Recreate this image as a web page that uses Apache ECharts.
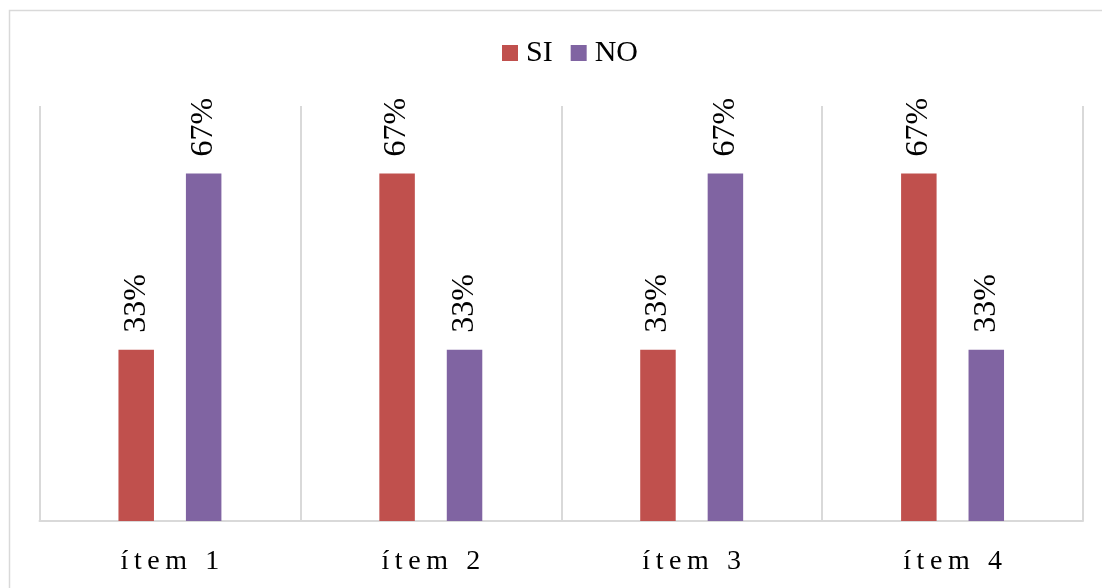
<!DOCTYPE html>
<html>
<head>
<meta charset="utf-8">
<style>
  html, body { margin: 0; padding: 0; background: #ffffff; }
  #chart { width: 1102px; height: 588px; }
</style>
<script src="https://cdn.jsdelivr.net/npm/echarts@6/dist/echarts.min.js"></script>
</head>
<body>
<div id="chart"></div>
<script>
// Survey answers per item (percent)
const categories = ['ítem 1', 'ítem 2', 'ítem 3', 'ítem 4'];
const seriesNames = ['SI', 'NO'];
const siValues = [33, 67, 33, 67];
const noValues = [67, 33, 67, 33];

const FONT = '"Liberation Serif", "Times New Roman", serif';
const GRID_COLOR = '#d9d9d9';

const chart = echarts.init(document.getElementById('chart'), null, { renderer: 'canvas' });

function barLabel() {
  return {
    show: true,
    position: 'top',
    rotate: 90,
    align: 'left',
    verticalAlign: 'middle',
    distance: 17,
    color: '#000000',
    fontFamily: FONT,
    fontSize: 32,
    formatter: p => p.value + '%'
  };
}

chart.setOption({
  animation: false,
  backgroundColor: '#ffffff',
  graphic: [{
    type: 'rect',
    shape: { x: 9.5, y: 10.5, width: 1110, height: 600 },
    style: { fill: 'none', stroke: GRID_COLOR, lineWidth: 1.5 },
    silent: true,
    z: -1
  }],
  legend: {
    data: seriesNames,
    left: 497,
    top: 33,
    itemWidth: 16,
    itemHeight: 16,
    itemGap: 18,
    icon: 'rect',
    textStyle: { fontFamily: FONT, fontSize: 30, color: '#000000', padding: [0, 0, 0, 3] }
  },
  grid: { left: 39.5, right: 19, top: 106, bottom: 67, containLabel: false },
  xAxis: {
    type: 'category',
    data: categories,
    boundaryGap: true,
    axisLine: { show: true, lineStyle: { color: GRID_COLOR, width: 2 } },
    axisTick: { show: false },
    splitLine: { show: true, lineStyle: { color: GRID_COLOR, width: 2 } },
    axisLabel: {
      margin: 27,
      color: '#000000',
      fontFamily: FONT,
      fontSize: 28,
      formatter: v => v.split('').join('\u2009')
    }
  },
  yAxis: {
    type: 'value',
    min: 0,
    max: 80,
    show: false,
    splitLine: { show: false }
  },
  series: [
    {
      name: seriesNames[0],
      type: 'bar',
      data: siValues,
      barWidth: 35.5,
      barGap: '90%',
      itemStyle: { color: '#C0504D' },
      label: barLabel()
    },
    {
      name: seriesNames[1],
      type: 'bar',
      data: noValues,
      barWidth: 35.5,
      barGap: '90%',
      itemStyle: { color: '#8064A2' },
      label: barLabel()
    }
  ]
});
</script>
</body>
</html>
